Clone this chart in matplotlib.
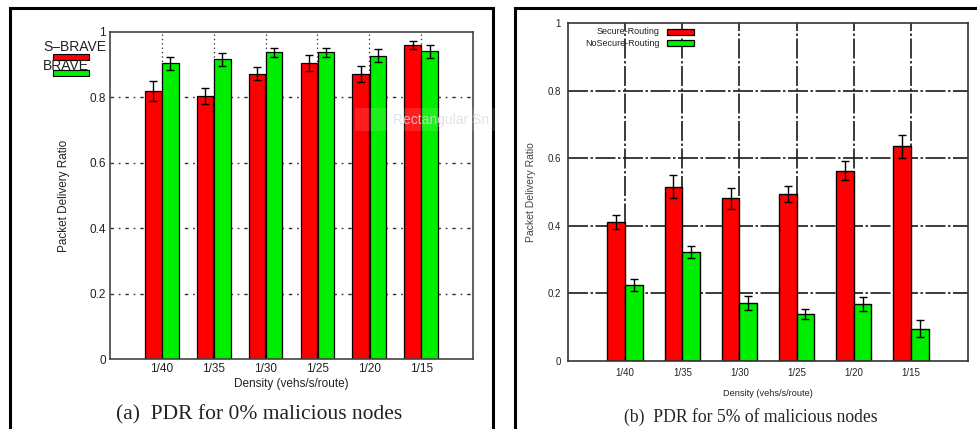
import matplotlib
matplotlib.use("Agg")
import matplotlib.pyplot as plt
from matplotlib.patches import Rectangle
import numpy as np

plt.rcParams['font.family'] = ['Liberation Sans', 'DejaVu Sans']

densities = ["1/40", "1/35", "1/30", "1/25", "1/20", "1/15"]

# Panel (a): 0% malicious nodes
sbrave = [0.82, 0.805, 0.872, 0.905, 0.872, 0.961]
sbrave_err = [0.031, 0.025, 0.020, 0.024, 0.025, 0.013]
brave = [0.904, 0.917, 0.938, 0.938, 0.928, 0.941]
brave_err = [0.019, 0.020, 0.014, 0.013, 0.020, 0.019]

# Panel (b): 5% malicious nodes
secure = [0.412, 0.516, 0.481, 0.495, 0.563, 0.635]
secure_err = [0.021, 0.033, 0.031, 0.024, 0.028, 0.033]
nosecure = [0.225, 0.322, 0.171, 0.139, 0.168, 0.096]
nosecure_err = [0.019, 0.018, 0.021, 0.016, 0.020, 0.026]

yticks = [0, 0.2, 0.4, 0.6, 0.8, 1]
yticklabels = ["0", "0.2", "0.4", "0.6", "0.8", "1"]

RED = "#ff0000"
GREEN = "#00ee00"

fig = plt.figure(figsize=(9.78, 4.29), dpi=100)

# panel frames
fig.patches.append(Rectangle((10/978, -0.05), (493-10)/978, 1.05 - 8/429,
                             transform=fig.transFigure, fill=False, lw=2.2, ec='black'))
fig.patches.append(Rectangle((515/978, -0.05), 0.5, 1.05 - 8/429,
                             transform=fig.transFigure, fill=False, lw=2.2, ec='black'))

x = np.arange(1, len(densities) + 1)
ekw = dict(ecolor='black', elinewidth=1, capsize=2.8, capthick=1)

# ---------- Left panel ----------
axL = fig.add_axes([110/978, 1-359/429, (473-110)/978, (359-32)/429])
w = 0.32
axL.bar(x - 0.165, sbrave, w, color=RED, edgecolor='black', lw=0.9, zorder=2,
        yerr=sbrave_err, error_kw=ekw)
axL.bar(x + 0.165, brave, w, color=GREEN, edgecolor='black', lw=0.9, zorder=2,
        yerr=brave_err, error_kw=ekw)
axL.set_xlim(0, 7)
axL.set_ylim(0, 1)
axL.set_xticks(x)
axL.set_xticklabels(densities, fontsize=8.5, color='#222222')
axL.set_yticks(yticks)
axL.set_yticklabels(yticklabels, fontsize=8.5, color='#222222')
axL.tick_params(length=0, pad=3)
for yv in yticks[1:-1]:
    axL.axhline(yv, color='#333333', lw=1.0, ls=(0, (2.5, 3.5, 1.2, 3.5)), zorder=1)
for xv in x:
    axL.axvline(xv, color='#222222', lw=0.9, ls=(0, (1, 2.5)), zorder=1)
for s in axL.spines.values():
    s.set_color('#444444')
    s.set_linewidth(1.2)
axL.set_ylabel("Packet Delivery Ratio", fontsize=8.5, color='#222222', labelpad=14)
axL.set_xlabel("Density (vehs/s/route)", fontsize=8.5, color='#222222', labelpad=2)

# legend for left panel (outside, top-left)
fig.text(43/978, 1-47/429, "S\u2013BRAVE", fontsize=10, color='#222222', va='center', ha='left')
fig.patches.append(Rectangle((53/978, 1-60/429), 36/978, 6/429, transform=fig.transFigure,
                             fc=RED, ec='black', lw=0.8))
fig.text(43/978, 1-66/429, "BRAVE", fontsize=10, color='#222222', va='center', ha='left')
fig.patches.append(Rectangle((53/978, 1-76/429), 36/978, 6/429, transform=fig.transFigure,
                             fc=GREEN, ec='black', lw=0.8))

fig.text(259/978, 1-415/429, "(a)  PDR for 0% malicious nodes", fontsize=15.5,
         family=['Liberation Serif', 'DejaVu Serif'], ha='center', va='center', color='#222222')

# faint screenshot-tool overlay
fig.patches.append(Rectangle((355/978, 1-131/429), 142/978, 23/429, transform=fig.transFigure,
                             fc='white', ec='none', alpha=0.12, zorder=10))
fig.text(393/978, 1-120/429, "Rectangular Sn", fontsize=10, color='#dcdcdc', alpha=0.8,
         ha='left', va='center', zorder=11)

# ---------- Right panel ----------
axR = fig.add_axes([568/978, 1-361/429, (968-568)/978, (361-23)/429])
w2 = 0.31
axR.bar(x - w2/2, secure, w2, color=RED, edgecolor='black', lw=1.0, zorder=2,
        yerr=secure_err, error_kw=ekw, label="Secure-Routing")
axR.bar(x + w2/2, nosecure, w2, color=GREEN, edgecolor='black', lw=1.0, zorder=2,
        yerr=nosecure_err, error_kw=ekw, label="NoSecure-Routing")
axR.set_xlim(0, 7)
axR.set_ylim(0, 1)
axR.set_xticks(x)
axR.set_xticklabels(densities, fontsize=7, color='#222222')
axR.set_yticks(yticks)
axR.set_yticklabels(yticklabels, fontsize=7, color='#222222')
axR.tick_params(length=0, pad=5)
for yv in yticks[1:-1]:
    axR.axhline(yv, color='#1a1a1a', lw=1.2, ls=(0, (12, 1.5, 1.5, 1.5)), zorder=1)
for xv in x:
    axR.axvline(xv, color='#1a1a1a', lw=1.2, ls=(0, (12, 1.5, 1.5, 1.5)), zorder=1)
for s in axR.spines.values():
    s.set_color('#333333')
    s.set_linewidth(1.2)
axR.set_ylabel("Packet Delivery Ratio", fontsize=7.5, color='#444444', labelpad=8)
axR.set_xlabel("Density (vehs/s/route)", fontsize=6.6, color='#222222', labelpad=8)

# legend inside right panel
fig.text(660/978, 1-32/429, "Secure-Routing", fontsize=6.5, color='#222222', ha='right', va='center')
fig.patches.append(Rectangle((667/978, 1-35/429), 27/978, 6/429, transform=fig.transFigure,
                             fc=RED, ec='black', lw=0.9, zorder=5))
fig.text(660/978, 1-43/429, "NoSecure-Routing", fontsize=6.5, color='#222222', ha='right', va='center')
fig.patches.append(Rectangle((667/978, 1-46/429), 27/978, 6/429, transform=fig.transFigure,
                             fc=GREEN, ec='black', lw=0.9, zorder=5))

fig.text(751/978, 1-417/429, "(b)  PDR for 5% of malicious nodes", fontsize=12.7,
         family=['Liberation Serif', 'DejaVu Serif'], ha='center', va='center', color='#222222')

fig.savefig("out.png", dpi=100)
